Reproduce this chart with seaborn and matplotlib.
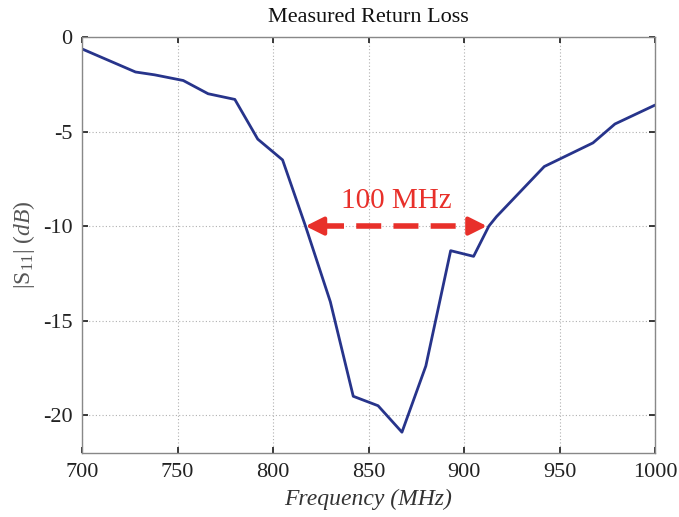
import matplotlib
matplotlib.use("Agg")
import matplotlib.pyplot as plt
import seaborn as sns
import pandas as pd

freq = [700, 728, 738, 753, 766, 780, 792, 805, 817, 830, 842, 855, 867.5, 880, 893, 905, 913, 917, 942, 967.5, 979, 1000]
s11 = [-0.63, -1.85, -2.0, -2.3, -3.0, -3.3, -5.4, -6.5, -10.0, -14.0, -19.0, -19.5, -20.9, -17.4, -11.3, -11.6, -10.0, -9.5, -6.85, -5.6, -4.6, -3.6]
x_ticks = [700, 750, 800, 850, 900, 950, 1000]
y_ticks = [0, -5, -10, -15, -20]
bw_left, bw_right, bw_level = 817, 912, -10
bw_label = "100 MHz"

sns.set_theme(style="white")
plt.rcParams['font.family'] = ['Liberation Serif', 'DejaVu Serif']
plt.rcParams['mathtext.fontset'] = 'custom'
plt.rcParams['mathtext.rm'] = 'Liberation Serif'
plt.rcParams['mathtext.it'] = 'Liberation Serif:italic'

fig = plt.figure(figsize=(6.79, 5.17), dpi=100)
ax = fig.add_axes([0.1208, 0.1238, 0.8439, 0.8046])

df = pd.DataFrame({"f": freq, "s": s11})
sns.lineplot(data=df, x="f", y="s", ax=ax, color="#27348b", lw=2.0, sort=False)

ax.set_xlim(700, 1000)
ax.set_ylim(-22, 0)
ax.set_xticks(x_ticks)
ax.set_yticks(y_ticks)
ax.set_yticklabels([str(v) for v in y_ticks])
ax.grid(True, color="#b0b0b0", linestyle=(0, (1, 2)), lw=0.8)
ax.tick_params(direction="in", length=4, labelsize=16, colors="#222222", top=True, right=True, bottom=True, left=True, pad=7)
for sp in ax.spines.values():
    sp.set_color("#888888")
    sp.set_linewidth(1.0)

ax.set_title("Measured Return Loss", fontsize=16, color="#111111", pad=11)
ax.set_xlabel("Frequency (MHz)", fontsize=17, style="italic", color="#333333", labelpad=5)
ax.set_ylabel(r"$\mathrm{|S}_{\mathit{11}}\mathrm{|}$ $(dB)$", fontsize=17, color="#555555", labelpad=4)

red = "#e8302a"
ax.plot([bw_left + 7, bw_right - 7], [bw_level, bw_level], color=red, lw=4, dashes=(4.5, 2.2), solid_capstyle="butt")
ax.annotate("", xy=(bw_left, bw_level), xytext=(bw_left + 9, bw_level),
            arrowprops=dict(arrowstyle="-|>,head_length=0.9,head_width=0.45", color=red, lw=3, shrinkA=0, shrinkB=0))
ax.annotate("", xy=(bw_right, bw_level), xytext=(bw_right - 9, bw_level),
            arrowprops=dict(arrowstyle="-|>,head_length=0.9,head_width=0.45", color=red, lw=3, shrinkA=0, shrinkB=0))
ax.text((bw_left + bw_right) / 2, bw_level + 0.65, bw_label, color=red, fontsize=21, ha="center", va="bottom")

fig.savefig("out.png", dpi=100)
